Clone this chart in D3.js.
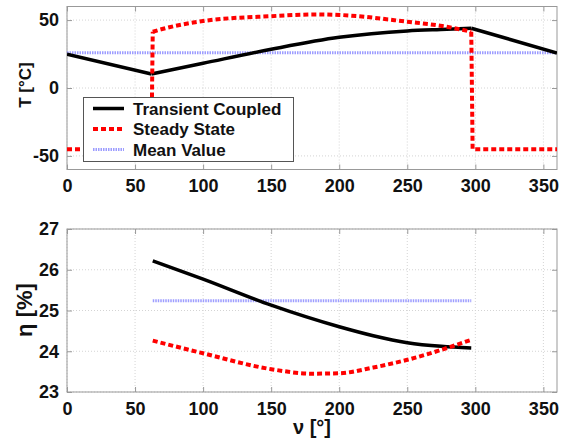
<!DOCTYPE html>
<html>
<head>
<meta charset="utf-8">
<script src="https://cdn.jsdelivr.net/npm/d3@7"></script>
<style>
body { margin: 0; background: #fff; }
text { font-family: Arial, "Liberation Sans", sans-serif; font-weight: bold; }
</style>
</head>
<body>
<script>
const w = 566, h = 441;

// data
const transAngle = [0, 62, 100, 150, 200, 250, 279, 297, 360];
const transTemp = [24.8, 10.3, 18.2, 28.5, 37.3, 42, 43.2, 44, 25.8];
const steadyAngle = [0, 62, 62.5, 63, 70, 100, 150, 185, 200, 250, 279, 297, 297.5, 298, 360];
const steadyTemp = [-45, -45, 0, 41.4, 43.4, 49.3, 52.9, 54.2, 53.8, 48.8, 45.1, 41.4, 0, -45, -45];
const meanTemp = 26;

const effAngle = [63, 100, 150, 200, 225, 250, 275, 297];
const effTrans = [26.22, 25.77, 25.13, 24.6, 24.38, 24.21, 24.12, 24.08];
const effSteadyAngle = [63, 100, 150, 180, 200, 225, 250, 297];
const effSteady = [24.26, 23.95, 23.56, 23.45, 23.46, 23.6, 23.79, 24.28];
const meanEff = 25.24;

const xTicks = [0, 50, 100, 150, 200, 250, 300, 350];
const tTicks = [-50, 0, 50];
const effTicks = [23, 24, 25, 26, 27];

const svg = d3.select('body').append('svg').attr('width', w).attr('height', h);

const x = d3.scaleLinear().domain([0, 360]).range([67, 557]);
const yT = d3.scaleLinear().domain([-60, 60]).range([169.5, 6.5]);
const yE = d3.scaleLinear().domain([23, 27]).range([392, 229]);

function frame(y, yt) {
  const g = svg.append('g');
  const [y0, y1] = y.range();
  // grid
  g.selectAll('.gx').data(xTicks).enter().append('line')
    .attr('x1', d => x(d)).attr('x2', d => x(d)).attr('y1', y0).attr('y2', y1)
    .attr('stroke', '#d4d4d4').attr('stroke-dasharray', '1,2').attr('stroke-width', 1);
  g.selectAll('.gy').data(yt).enter().append('line')
    .attr('x1', 67).attr('x2', 557).attr('y1', d => y(d)).attr('y2', d => y(d))
    .attr('stroke', '#d4d4d4').attr('stroke-dasharray', '1,2').attr('stroke-width', 1);
  // ticks inward on all sides
  const ax = g.append('g').attr('transform', `translate(0,${y0})`)
    .call(d3.axisBottom(x).tickValues(xTicks).tickSizeInner(-5).tickSizeOuter(0).tickPadding(10));
  ax.select('.domain').remove();
  ax.selectAll('line').attr('stroke', '#999');
  ax.selectAll('text').attr('font-size', 18).attr('fill', '#111');
  const at = g.append('g').attr('transform', `translate(0,${y1})`)
    .call(d3.axisTop(x).tickValues(xTicks).tickSizeInner(-5).tickSizeOuter(0).tickFormat(''));
  at.select('.domain').remove();
  at.selectAll('line').attr('stroke', '#999');
  const ay = g.append('g').attr('transform', 'translate(67,0)')
    .call(d3.axisLeft(y).tickValues(yt).tickFormat(d => String(d)).tickSizeInner(-5).tickSizeOuter(0).tickPadding(8));
  ay.select('.domain').remove();
  ay.selectAll('line').attr('stroke', '#999');
  ay.selectAll('text').attr('font-size', 18).attr('fill', '#111');
  const ar = g.append('g').attr('transform', 'translate(557,0)')
    .call(d3.axisRight(y).tickValues(yt).tickSizeInner(-5).tickSizeOuter(0).tickFormat(''));
  ar.select('.domain').remove();
  ar.selectAll('line').attr('stroke', '#999');
  g.append('rect').attr('x', 67).attr('y', y1).attr('width', 490).attr('height', y0 - y1)
    .attr('fill', 'none').attr('stroke', '#999').attr('stroke-width', 1);
}

frame(yT, tTicks);
frame(yE, effTicks);

svg.append('clipPath').attr('id', 'cT').append('rect')
  .attr('x', 67).attr('y', 6.5).attr('width', 490).attr('height', 163);

const lineT = d3.line().x(d => x(d[0])).y(d => yT(d[1]));
const lineTc = d3.line().curve(d3.curveMonotoneX).x(d => x(d[0])).y(d => yT(d[1]));
const lineE = d3.line().curve(d3.curveMonotoneX).x(d => x(d[0])).y(d => yE(d[1]));

const gT = svg.append('g').attr('clip-path', 'url(#cT)');
gT.append('line').attr('x1', x(0)).attr('x2', x(360)).attr('y1', yT(meanTemp)).attr('y2', yT(meanTemp))
  .attr('stroke', '#9d9dff').attr('stroke-width', 3).attr('stroke-dasharray', '1.5,1');
// transient: straight pieces outside the heating window, smooth inside
gT.append('path').datum(transAngle.slice(1, 8).map((a, i) => [a, transTemp[i + 1]]))
  .attr('d', lineTc).attr('fill', 'none').attr('stroke', '#000').attr('stroke-width', 3.5);
gT.append('path').datum([[transAngle[0], transTemp[0]], [transAngle[1], transTemp[1]]])
  .attr('d', lineT).attr('fill', 'none').attr('stroke', '#000').attr('stroke-width', 3.5);
gT.append('path').datum([[transAngle[7], transTemp[7]], [transAngle[8], transTemp[8]]])
  .attr('d', lineT).attr('fill', 'none').attr('stroke', '#000').attr('stroke-width', 3.5);
// steady state: jumps straight, heated part smooth
const ss = steadyAngle.map((a, i) => [a, steadyTemp[i]]);
gT.append('path').datum(ss.slice(0, 4)).attr('d', lineT)
  .attr('fill', 'none').attr('stroke', '#ff0000').attr('stroke-width', 4).attr('stroke-dasharray', '5,3');
gT.append('path').datum(ss.slice(3, 12)).attr('d', lineTc)
  .attr('fill', 'none').attr('stroke', '#ff0000').attr('stroke-width', 4).attr('stroke-dasharray', '5,3');
gT.append('path').datum(ss.slice(11)).attr('d', lineT)
  .attr('fill', 'none').attr('stroke', '#ff0000').attr('stroke-width', 4).attr('stroke-dasharray', '5,3');

svg.append('line').attr('x1', x(63)).attr('x2', x(297)).attr('y1', yE(meanEff)).attr('y2', yE(meanEff))
  .attr('stroke', '#9d9dff').attr('stroke-width', 3).attr('stroke-dasharray', '1.5,1');
svg.append('path').datum(effAngle.map((a, i) => [a, effTrans[i]]))
  .attr('d', lineE).attr('fill', 'none').attr('stroke', '#000').attr('stroke-width', 3.5);
svg.append('path').datum(effSteadyAngle.map((a, i) => [a, effSteady[i]]))
  .attr('d', lineE).attr('fill', 'none').attr('stroke', '#ff0000').attr('stroke-width', 4)
  .attr('stroke-dasharray', '5,3');

// legend
const leg = svg.append('g');
leg.append('rect').attr('x', 83.5).attr('y', 97.5).attr('width', 210).attr('height', 64)
  .attr('fill', '#fff').attr('stroke', '#555').attr('stroke-width', 1);
const legItems = [
  { label: 'Transient Coupled', color: '#000', dash: null, sw: 3.5 },
  { label: 'Steady State', color: '#ff0000', dash: '5,3', sw: 4 },
  { label: 'Mean Value', color: '#9d9dff', dash: '1.5,1', sw: 3 }
];
legItems.forEach((d, i) => {
  const yy = 108.5 + i * 20.5;
  leg.append('line').attr('x1', 93).attr('x2', 124).attr('y1', yy).attr('y2', yy)
    .attr('stroke', d.color).attr('stroke-width', d.sw).attr('stroke-dasharray', d.dash);
  leg.append('text').attr('x', 133).attr('y', yy + 6).attr('font-size', 17).attr('fill', '#111').text(d.label);
});

// axis labels
svg.append('text').attr('transform', 'translate(31,85) rotate(-90)').attr('text-anchor', 'middle')
  .attr('font-size', 17).attr('fill', '#111').text('T [°C]');
svg.append('text').attr('transform', 'translate(32,310) rotate(-90)').attr('text-anchor', 'middle')
  .attr('font-size', 22).attr('fill', '#111').text('η [%]');
svg.append('text').attr('x', 312).attr('y', 434).attr('text-anchor', 'middle')
  .attr('font-size', 20).attr('fill', '#111').text('ν [°]');
</script>
</body>
</html>
